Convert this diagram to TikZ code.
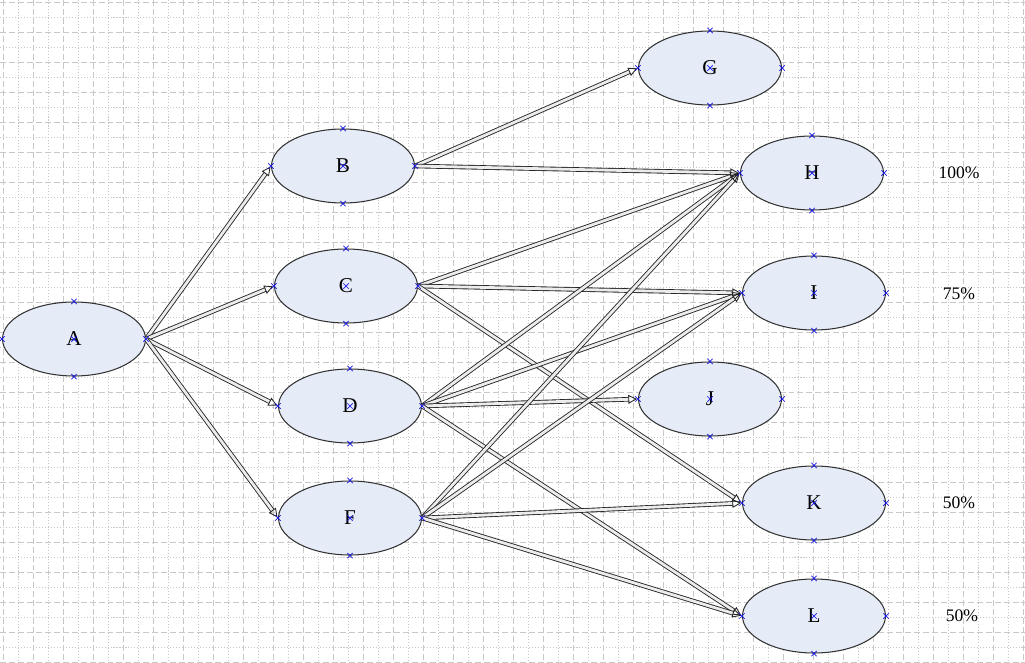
\documentclass[tikz,border=0pt]{standalone}
\usepackage{fontspec}
\setmainfont{Liberation Serif}
\usetikzlibrary{shapes.geometric, shapes.misc, arrows.meta}

\definecolor{gridgray}{RGB}{200,200,200}
\definecolor{statefill}{RGB}{230,236,247}
\definecolor{pinblue}{RGB}{20,20,230}

\tikzset{
  state/.style={ellipse, draw=black!80, fill=statefill, line width=0.6pt,
    minimum width=2.86cm, minimum height=1.48cm, inner sep=0pt, font=\large},
  link/.style={draw=black!85, line width=0.5pt, double=white!85!gray,
    double distance=1.6pt, -{Triangle[open, length=5pt, width=5pt]}, shorten >=0.5pt},
  pin/.style={cross out, draw=pinblue, line width=0.4pt, minimum size=2.6pt, inner sep=0pt},
  share/.style={font=\normalsize}
}

\begin{document}
\begin{tikzpicture}[x=0.02cm, y=-0.02cm]
  \useasboundingbox (0,0) rectangle (1025,663);

  % Grid paper
  \foreach \x in {18,48,...,1025} \draw[gridgray, line width=0.45pt, dash pattern=on 0.6pt off 1.1pt] (\x,0) -- (\x,663);
  \foreach \y in {17,47,...,663} \draw[gridgray, line width=0.45pt, dash pattern=on 0.6pt off 1.1pt] (0,\y) -- (1025,\y);
  \foreach \x in {3,33,...,1025} \draw[gridgray, line width=0.55pt, dash pattern=on 3.4pt off 1.7pt] (\x,0) -- (\x,663);
  \foreach \y in {2,32,...,663} \draw[gridgray, line width=0.55pt, dash pattern=on 3.4pt off 1.7pt] (0,\y) -- (1025,\y);

  % States
  \node[state] (A) at (74,339) {A};
  \node[state] (B) at (343,166) {B};
  \node[state] (C) at (346,286) {C};
  \node[state] (D) at (350,406) {D};
  \node[state] (F) at (350,518) {F};
  \node[state] (G) at (710,68)  {G};
  \node[state] (H) at (812,173) {H};
  \node[state] (I) at (814,293) {I};
  \node[state] (J) at (710,399) {J};
  \node[state] (K) at (814,503) {K};
  \node[state] (L) at (814,616) {L};

  % Shares on the right
  \node[share] (pH) at (959,173) {100\%};
  \node[share] (pI) at (959,294) {75\%};
  \node[share] (pK) at (959,503) {50\%};
  \node[share] (pL) at (962,616) {50\%};

  % Links from A
  \foreach \t in {B,C,D,F} \draw[link] (A.east) -- (\t.west);

  % Links to the right column
  \foreach \s/\t in {B/G, B/H, C/H, C/I, C/K, D/H, D/I, D/J, D/L, F/H, F/I, F/K, F/L}
    \draw[link] (\s.east) -- (\t.west);

  % Connection points
  \foreach \n in {A,B,C,D,F,G,H,I,J,K,L}
    \foreach \p in {north,south,east,west,center}
      \node[pin] at (\n.\p) {};
\end{tikzpicture}
\end{document}
